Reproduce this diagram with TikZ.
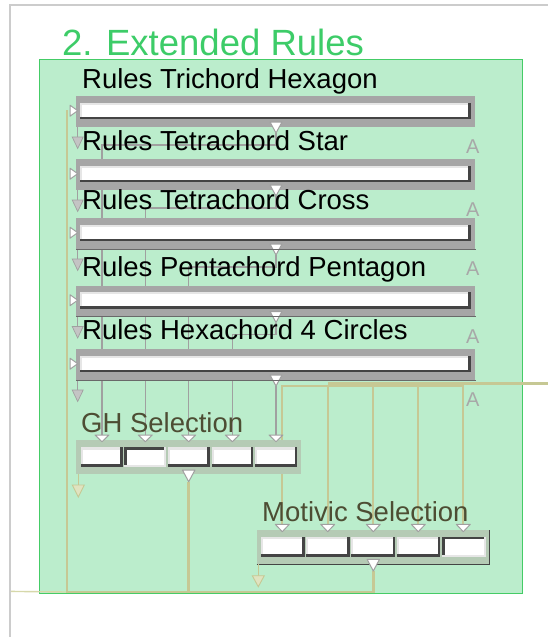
\documentclass[tikz,border=0pt]{standalone}
\usepackage{fontspec}
\setmainfont{Liberation Sans}
\definecolor{panel}{RGB}{187,237,204}
\definecolor{panelline}{RGB}{68,204,102}
\definecolor{titlegreen}{RGB}{61,204,104}
\definecolor{framegray}{RGB}{204,204,204}
\definecolor{bargray}{RGB}{166,166,166}
\definecolor{edgedark}{RGB}{68,68,68}
\definecolor{hilite}{RGB}{230,230,230}
\definecolor{wiregray}{RGB}{160,160,160}
\definecolor{wiretan}{RGB}{198,200,148}
\definecolor{wiretanlight}{RGB}{214,216,170}
\definecolor{tantri}{RGB}{224,227,192}
\definecolor{selbox}{RGB}{181,203,181}
\definecolor{seltext}{RGB}{77,77,51}
\definecolor{agray}{RGB}{168,168,168}
\definecolor{trigray}{RGB}{196,196,196}

% button faces: x1 y1 x2 y2 (y grows downwards)
\newcommand\raisedface[4]{%
  \fill[edgedark] (#1,#2) rectangle (#3,#4);
  \fill[hilite] (#1,#2) rectangle ({#3-2.5},{#4-2.7});
  \fill[white] ({#1+2},{#2+2.2}) rectangle ({#3-2.5},{#4-2.7});}
\newcommand\pressedface[4]{%
  \fill[hilite] (#1,#2) rectangle (#3,#4);
  \fill[edgedark] (#1,#2) rectangle ({#3-2.2},{#4-2.2});
  \fill[white] ({#1+2.6},{#2+2.6}) rectangle ({#3-2.2},{#4-2.2});}
% downward triangle: centre x, top y, half width, height, style
\newcommand\downtri[5]{%
  \filldraw[#5] ({#1-#3},#2) -- ({#1+#3},#2) -- (#1,{#2+#4}) -- cycle;}
% right-pointing triangle: left x, centre y, half height, width, style
\newcommand\righttri[5]{%
  \filldraw[#5] (#1,{#2-#3}) -- (#1,{#2+#3}) -- ({#1+#4},#2) -- cycle;}

\begin{document}
\begin{tikzpicture}[x=1pt,y=-1pt,
  wire/.style={draw=wiregray,line width=1.3pt},
  tanwire/.style={draw=wiretan,line width=2pt},
  bus/.style={draw=wiretan,line width=2.6pt},
  porttri/.style={fill=white,draw=wiregray,line width=1pt,line join=round},
  grayouttri/.style={fill=trigray,draw=wiregray,line width=0.7pt},
  tanouttri/.style={fill=tantri,draw=wiretan,line width=0.9pt},
  rowlabel/.style={anchor=base west,inner sep=0pt,font=\fontsize{27.5}{30}\selectfont},
  sellabel/.style={rowlabel,text=seltext},
  alabel/.style={anchor=base west,inner sep=0pt,text=agray,font=\fontsize{20}{22}\selectfont}]
\useasboundingbox (0,0) rectangle (548,637);

% outer frame
\draw[framegray,line width=1.8pt] (10.2,637) -- (10.2,5.2) -- (548,5.2);

% panel and title
\filldraw[fill=panel,draw=panelline,line width=0.9pt] (39.8,59.5) rectangle (522,593);
\node[anchor=base west,inner sep=0pt,text=titlegreen,font=\fontsize{36.5}{40}\selectfont] (title) at (62,55) {2. Extended Rules};

% port coordinates
\foreach \T/\gx [count=\i] in {96/102,159/145.3,218/188.7,285.5/232.3,349/276}{
  \coordinate (bar\i-out) at (276,{\T+37});
  \coordinate (bar\i-side) at (77.7,{\T+31});
  \coordinate (gh-in\i) at (\gx,435);
}
\foreach \mx [count=\i] in {282.3,327.7,373.3,418.3,463.3}{
  \coordinate (mot-in\i) at (\mx,524.3);
}
\coordinate (gh-out) at (188.7,481.7);
\coordinate (mot-out) at (373.3,571);
\coordinate (gh-side) at (78.3,474);
\coordinate (mot-side) at (258.3,564.3);
\coordinate (ext-in) at (11,591.4);
\coordinate (bus-corner) at (67,592);
\coordinate (bus-top) at (67,109.5);
\coordinate (ext-right) at (548,383.6);
\coordinate (fan-y) at (0,385.6);

% feedback bus into the rule inputs
\draw[draw=wiretanlight,line width=1.4pt] (ext-in) -- (bus-corner);
\draw[bus] (mot-out) |- (bus-corner) -- (bus-top);
\draw[bus] (gh-out) -- (gh-out |- bus-corner);

% rule outputs into GH Selection
\foreach \i in {1,...,4}{
  \draw[wire] (bar\i-out) -- ++(0,12) -| (gh-in\i);
}
\draw[wire] (bar5-out) -- (gh-in5);

% external feed into Motivic Selection
\draw[tanwire,line width=3.4pt] (ext-right) -- (ext-right -| mot-in2);
\draw[tanwire] (mot-in1) -- (mot-in1 |- fan-y) -- (mot-in5 |- fan-y) -- (mot-in5);
\foreach \i in {2,3,4}{
  \draw[tanwire] (mot-in\i |- fan-y) -- (mot-in\i);
}

% rule rows
\foreach \T/\base/\txt [count=\i] in {96/88/Rules Trichord Hexagon,
  159/150/Rules Tetrachord Star,
  218/209/Rules Tetrachord Cross,
  285.5/276/Rules Pentachord Pentagon,
  349/339/Rules Hexachord 4 Circles}{
  \node[rowlabel] (row\i) at (82,\base) {\txt};
  \fill[bargray] (76,\T) rectangle (475,{\T+31});
  \raisedface{80}{\T+6.7}{470.8}{\T+23.4}
  \draw[wire] (bar\i-side) -- ++(0,10);
  \downtri{77.7}{\T+41}{5.5}{11.5}{grayouttri}
  \righttri{70}{\T+14.7}{5.5}{7.7}{porttri}
  \downtri{276}{\T+26}{6}{11}{porttri}
  \node[alabel] (a\i) at (466,{\T+57.5}) {A};
}
\foreach \T in {218,285.5,349}{
  \draw[edgedark!80,line width=0.8pt] (76,{\T+31}) -- (476,{\T+31});
}

% GH Selection
\node[sellabel] (ghlabel) at (81,432.5) {GH Selection};
\fill[selbox] (76,440) rectangle (301,474);
\foreach \k in {0,...,4}{
  \pgfmathsetmacro\bxa{80.7+43.65*\k}
  \pgfmathsetmacro\bxb{\bxa+41.8}
  \ifnum\k=1
    \pressedface{\bxa}{447.3}{\bxb}{466.7}
  \else
    \raisedface{\bxa}{447.3}{\bxb}{466.7}
  \fi
}
\foreach \gx in {102,145.3,188.7,232.3,276}{
  \downtri{\gx}{435}{7}{6.7}{porttri}
}
\downtri{188.7}{470}{6.3}{11.7}{porttri}
\draw[tanwire,line width=1.6pt] (gh-side) -- ++(0,11);
\downtri{78.3}{485}{6}{12}{tanouttri}

% Motivic Selection
\node[sellabel] (motlabel) at (262,521.7) {Motivic Selection};
\fill[selbox] (256.7,530) rectangle (489.7,564.3);
\draw[edgedark,line width=0.8pt] (256.7,564.3) -- (489.7,564.3) -- (489.7,530);
\foreach \k in {0,...,4}{
  \pgfmathsetmacro\bxa{260.7+45.3*\k}
  \pgfmathsetmacro\bxb{\bxa+43.8}
  \ifnum\k=4
    \pressedface{\bxa}{536.7}{\bxb}{556.7}
  \else
    \raisedface{\bxa}{536.7}{\bxb}{556.7}
  \fi
}
\foreach \mx in {282.3,327.7,373.3,418.3,463.3}{
  \downtri{\mx}{524.3}{7}{7.4}{porttri}
}
\downtri{373.3}{559.3}{6.2}{11.7}{porttri}
\draw[tanwire,line width=1.6pt] (mot-side) -- ++(0,11.4);
\downtri{258.3}{575.7}{6}{11}{tanouttri}
\end{tikzpicture}
\end{document}
